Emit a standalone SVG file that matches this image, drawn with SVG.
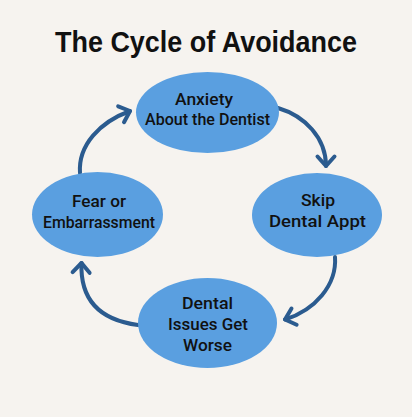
<svg xmlns="http://www.w3.org/2000/svg" width="412" height="417" viewBox="0 0 412 417">
  <defs>
    <style>
      .node { fill: #5a9fe0; }
      .label { font-family: Roboto, "Liberation Sans", Arial, sans-serif; font-weight: 500; font-size: 17px; fill: #111; text-anchor: middle; }
      .title { font-family: "Liberation Sans", Arial, sans-serif; font-weight: bold; font-size: 29px; fill: #111; text-anchor: middle; }
      .conn { fill: none; stroke: #2b5b8f; stroke-width: 4; stroke-linecap: round; }
    </style>
    <marker id="chev" markerUnits="userSpaceOnUse" markerWidth="24" markerHeight="24" viewBox="-12 -12 24 24" refX="0" refY="0" orient="auto" overflow="visible">
      <path d="M -9.5 -8.5 L 0 0 L -9.5 8.5" fill="none" stroke="#2b5b8f" stroke-width="4" stroke-linecap="round" stroke-linejoin="round"/>
    </marker>
  </defs>
  <rect width="412" height="417" fill="#f6f3ef"/>
  <text class="title" x="206" y="52" textLength="302" lengthAdjust="spacingAndGlyphs">The Cycle of Avoidance</text>

  <g id="connectors">
    <path class="conn" d="M 278 108 C 305 116, 326 138, 326 166" marker-end="url(#chev)"/>
    <path class="conn" d="M 335 257 C 337 285, 315 310, 285 319.5" marker-end="url(#chev)"/>
    <path class="conn" d="M 138 325 C 100 320, 80 300, 81.5 263" marker-end="url(#chev)"/>
    <path class="conn" d="M 80 173 C 78 145, 100 122, 130 111" marker-end="url(#chev)"/>
  </g>

  <g id="node-anxiety">
    <ellipse class="node" cx="207.5" cy="112.5" rx="71.5" ry="40.5"/>
    <text class="label" x="204" y="105" textLength="58" lengthAdjust="spacingAndGlyphs">Anxiety</text>
    <text class="label" x="207.5" y="125" textLength="125" lengthAdjust="spacingAndGlyphs">About the Dentist</text>
  </g>
  <g id="node-skip">
    <ellipse class="node" cx="317" cy="215" rx="65" ry="42"/>
    <text class="label" x="318" y="206" textLength="34" lengthAdjust="spacingAndGlyphs">Skip</text>
    <text class="label" x="317.5" y="227" textLength="97" lengthAdjust="spacingAndGlyphs">Dental Appt</text>
  </g>
  <g id="node-worse">
    <ellipse class="node" cx="207.5" cy="323" rx="69.5" ry="45"/>
    <text class="label" x="207.5" y="309" textLength="51" lengthAdjust="spacingAndGlyphs">Dental</text>
    <text class="label" x="208" y="330" textLength="80" lengthAdjust="spacingAndGlyphs">Issues Get</text>
    <text class="label" x="207.5" y="351" textLength="49" lengthAdjust="spacingAndGlyphs">Worse</text>
  </g>
  <g id="node-fear">
    <ellipse class="node" cx="97.5" cy="214.5" rx="65.5" ry="42.5"/>
    <text class="label" x="99" y="207" textLength="54" lengthAdjust="spacingAndGlyphs">Fear or</text>
    <text class="label" x="99" y="228" textLength="112" lengthAdjust="spacingAndGlyphs">Embarrassment</text>
  </g>
</svg>
